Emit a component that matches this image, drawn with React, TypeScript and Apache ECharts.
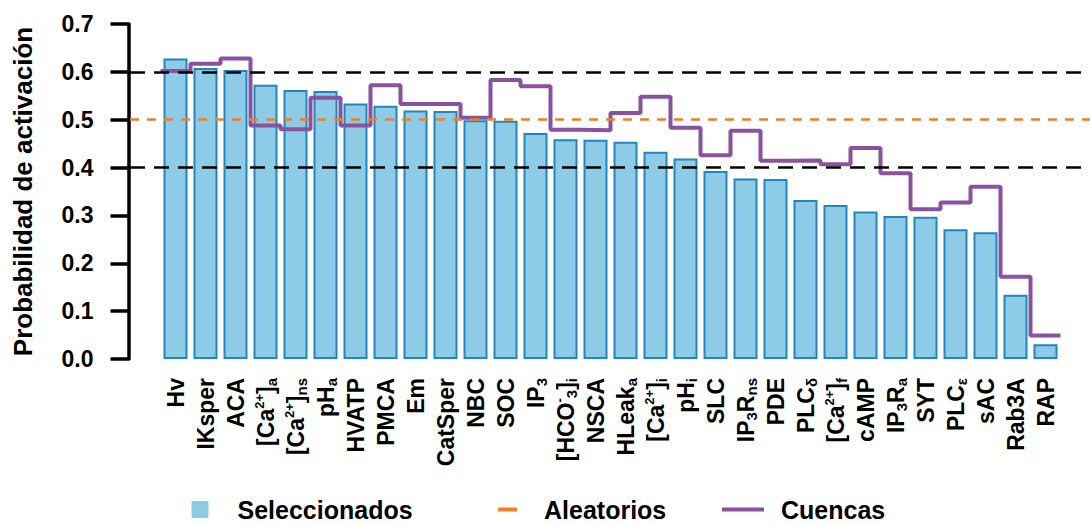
import React, { useEffect, useRef } from "react";
import * as echarts from "echarts";

const categories = [
  "Hv", "IKsper", "ACA", "[Ca2+]a", "[Ca2+]ns", "pHa", "HVATP", "PMCA", "Em", "CatSper",
  "NBC", "SOC", "IP3", "[HCO-3]i", "NSCA", "HLeaka", "[Ca2+]i", "pHi", "SLC", "IP3Rns",
  "PDE", "PLCδ", "[Ca2+]f", "cAMP", "IP3Ra", "SYT", "PLCε", "sAC", "Rab3A", "RAP",
];

const categoryLabels = [
  "Hv", "IKsper", "ACA", "[Ca{sup|2+}]{sub|a}", "[Ca{sup|2+}]{sub|ns}", "pH{sub|a}", "HVATP", "PMCA", "Em", "CatSper",
  "NBC", "SOC", "IP{sub|3}", "[HCO{sup|-}{sub|3}]{sub|i}", "NSCA", "HLeak{sub|a}", "[Ca{sup|2+}]{sub|i}", "pH{sub|i}", "SLC", "IP{sub|3}R{sub|ns}",
  "PDE", "PLC{sub|δ}", "[Ca{sup|2+}]{sub|f}", "cAMP", "IP{sub|3}R{sub|a}", "SYT", "PLC{sub|ε}", "sAC", "Rab3A", "RAP",
];

const seleccionados = [
  0.628, 0.608, 0.604, 0.573, 0.562, 0.56, 0.534, 0.529, 0.519, 0.518,
  0.499, 0.498, 0.472, 0.459, 0.458, 0.454, 0.433, 0.419, 0.393, 0.377,
  0.376, 0.332, 0.322, 0.308, 0.299, 0.297, 0.271, 0.265, 0.134, 0.031,
];

const cuencas = [
  0.602, 0.617, 0.628, 0.488, 0.48, 0.546, 0.488, 0.572, 0.533, 0.533,
  0.504, 0.583, 0.57, 0.479, 0.478, 0.514, 0.548, 0.483, 0.426, 0.477,
  0.414, 0.415, 0.407, 0.441, 0.388, 0.313, 0.327, 0.36, 0.172, 0.049,
];

const aleatoriosLevel = 0.5;
const thresholdLevels = [0.6, 0.4];
const yTicks = [0, 0.1, 0.2, 0.3, 0.4, 0.5, 0.6, 0.7];

const FONT = "Liberation Sans";
const BAR_FILL = "#8ECBE6";
const BAR_BORDER = "#1D87BE";
const ORANGE = "#F07F2A";
const PURPLE = "#8A51A0";

export default function App() {
  const ref = useRef<HTMLDivElement>(null);

  useEffect(() => {
    if (!ref.current) return;
    const chart = echarts.init(ref.current, undefined, { renderer: "svg" });

    const stepData: [number, number][] = cuencas.map((v, i) => [i - 0.5, v]);
    stepData.push([cuencas.length - 0.5, cuencas[cuencas.length - 1]]);

    const legendText = (pad: number) => ({
      fontFamily: FONT,
      fontWeight: "bold" as const,
      fontSize: 25,
      color: "#000",
      padding: [0, 0, 0, pad],
    });

    chart.setOption({
      animation: false,
      backgroundColor: "#fff",
      grid: { left: 160.5, right: 29.5, top: 24, bottom: 166, containLabel: false },
      xAxis: [
        {
          type: "category",
          data: categories,
          axisLine: { show: false },
          axisTick: { show: false },
          axisLabel: {
            interval: 0,
            rotate: 90,
            margin: 19,
            fontFamily: FONT,
            fontWeight: "bold",
            fontSize: 23,
            lineHeight: 26,
            color: "#000",
            formatter: (_v: string, i: number) => categoryLabels[i],
            rich: {
              sub: { fontFamily: FONT, fontWeight: "bold", fontSize: 15, lineHeight: 15, verticalAlign: "bottom", color: "#000" },
              sup: { fontFamily: FONT, fontWeight: "bold", fontSize: 13, lineHeight: 13, verticalAlign: "top", color: "#000" },
            },
          },
        },
        { type: "value", min: -0.5, max: categories.length - 0.5, show: false },
      ],
      yAxis: {
        type: "value",
        min: yTicks[0],
        max: yTicks[yTicks.length - 1],
        interval: 0.1,
        offset: 32,
        name: "Probabilidad de activación",
        nameLocation: "middle",
        nameGap: 93,
        nameRotate: 90,
        nameTextStyle: { fontFamily: FONT, fontWeight: "bold", fontSize: 26, color: "#000" },
        axisLine: { show: true, onZero: false, lineStyle: { color: "#000", width: 3.5 } },
        axisTick: { show: true, length: 18, lineStyle: { color: "#000", width: 3.5 } },
        splitLine: { show: false },
        axisLabel: {
          margin: 35,
          fontFamily: FONT,
          fontWeight: "bold",
          fontSize: 23,
          color: "#000",
          formatter: (v: number) => v.toFixed(1),
        },
      },
      legend: [
        {
          data: [{ name: "Seleccionados", icon: "rect", itemStyle: { color: BAR_FILL, borderWidth: 0 } }],
          left: 191.5, top: 497, padding: 0, itemWidth: 17, itemHeight: 17,
          textStyle: legendText(24), selectedMode: false,
        },
        {
          data: [{ name: "Aleatorios", icon: "rect", itemStyle: { color: ORANGE } }],
          left: 498, top: 497, padding: 0, itemWidth: 19, itemHeight: 4,
          textStyle: legendText(22), selectedMode: false,
        },
        {
          data: [{ name: "Cuencas", icon: "rect", itemStyle: { color: PURPLE } }],
          left: 722, top: 497, padding: 0, itemWidth: 42, itemHeight: 4,
          textStyle: legendText(12), selectedMode: false,
        },
      ],
      series: [
        {
          name: "Seleccionados",
          type: "bar",
          data: seleccionados,
          barWidth: 24,
          itemStyle: { color: BAR_FILL, borderColor: BAR_BORDER, borderWidth: 2 },
          z: 2,
        },
        {
          name: "Aleatorios",
          type: "line",
          xAxisIndex: 1,
          data: [],
          color: ORANGE,
          symbol: "none",
          z: 3,
          markLine: {
            silent: true,
            symbol: ["none", "none"],
            label: { show: false },
            data: [
              [
                { x: 130, yAxis: aleatoriosLevel, lineStyle: { color: ORANGE, width: 2.5, type: [9, 8] } },
                { x: 1090, yAxis: aleatoriosLevel },
              ],
              ...thresholdLevels.map((lv) => [
                { x: 130, yAxis: lv, lineStyle: { color: "#000", width: 2.5, type: [15, 9] } },
                { x: 1090, yAxis: lv },
              ]),
            ],
          },
        },
        {
          name: "Cuencas",
          type: "line",
          xAxisIndex: 1,
          step: "end",
          data: stepData,
          color: PURPLE,
          symbol: "none",
          lineStyle: { color: PURPLE, width: 4 },
          z: 4,
        },
      ],
    });

    return () => chart.dispose();
  }, []);

  return (
    <div
      ref={ref}
      style={{ width: 1090, height: 525, position: "absolute", left: 0, top: 0 }}
    />
  );
}
